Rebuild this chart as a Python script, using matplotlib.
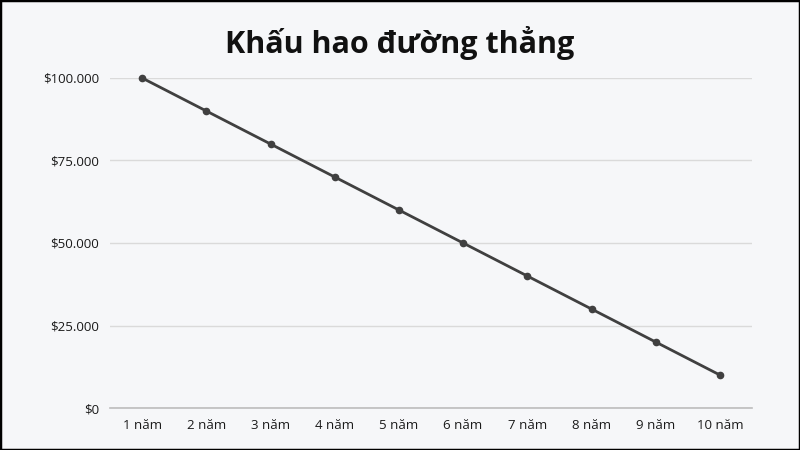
import matplotlib.pyplot as plt
from matplotlib.patches import Rectangle
from matplotlib.ticker import FuncFormatter

years = ['1 năm', '2 năm', '3 năm', '4 năm', '5 năm',
         '6 năm', '7 năm', '8 năm', '9 năm', '10 năm']
values = [100000, 90000, 80000, 70000, 60000, 50000, 40000, 30000, 20000, 10000]
y_ticks = [0, 25000, 50000, 75000, 100000]

bg = '#f6f7f9'
fig = plt.figure(figsize=(8, 4.5), dpi=100, facecolor=bg)
ax = fig.add_axes([0.1375, 0.0933, 0.8025, 0.7334], facecolor=bg)

x = list(range(len(years)))
ax.plot(x, values, color='#404040', linewidth=2.0, marker='o', markersize=4.5,
        zorder=3, clip_on=False)

ax.set_xlim(-0.5, len(years) - 0.5)
ax.set_ylim(0, 100000)
ax.set_xticks(x)
ax.set_xticklabels(years)
ax.set_yticks(y_ticks)
ax.yaxis.set_major_formatter(FuncFormatter(lambda v, p: '$' + f'{int(v):,}'.replace(',', '.')))

ax.grid(axis='y', color='#dadada', linewidth=1.0, zorder=0)
ax.tick_params(length=0, labelsize=9.5, colors='#1a1a1a', pad=8)
for lbl in ax.get_xticklabels() + ax.get_yticklabels():
    lbl.set_fontfamily('Open Sans')
for side in ['top', 'right', 'left']:
    ax.spines[side].set_visible(False)
ax.spines['bottom'].set_color('#bdbdbd')
ax.spines['bottom'].set_linewidth(1.2)

fig.text(0.5, 0.905, 'Khấu hao đường thẳng', ha='center', va='center',
         fontsize=22, fontweight='bold', family='Open Sans', color='#111111')

# black frame around the picture
fig.patches.append(Rectangle((0, 0), 1, 1, transform=fig.transFigure, fill=False,
                             edgecolor='black', linewidth=2.5))

fig.savefig('out.png', dpi=100, facecolor=bg)
